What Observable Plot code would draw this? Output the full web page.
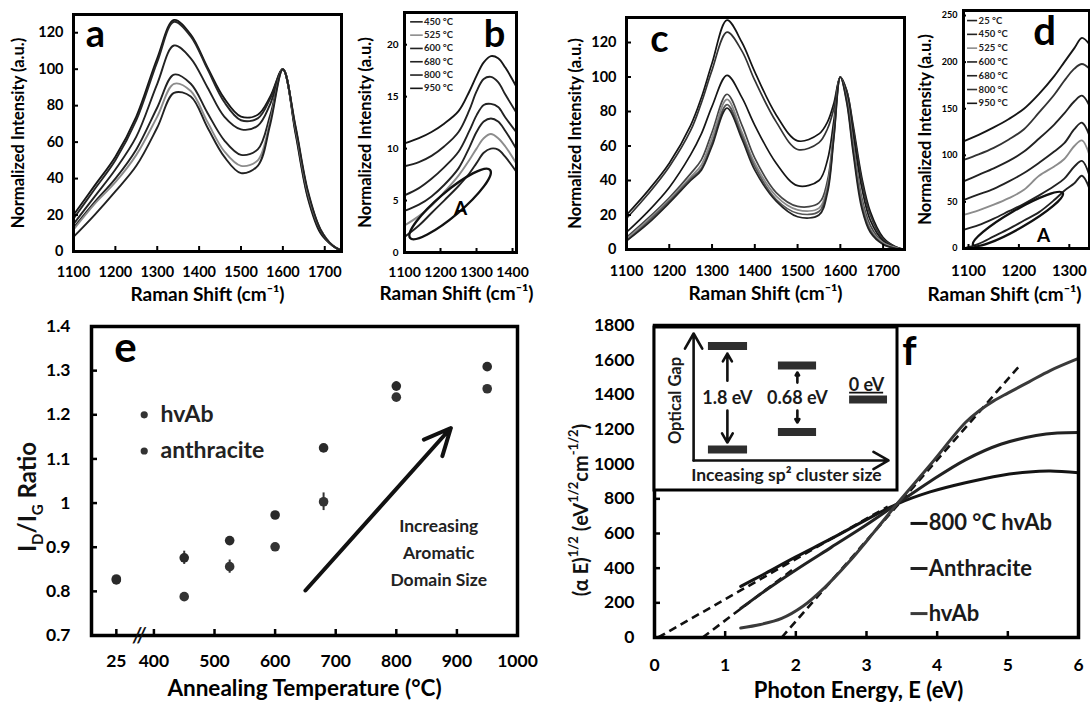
<!DOCTYPE html>
<html><head><meta charset="utf-8">
<script src="https://cdn.jsdelivr.net/npm/d3@7"></script>
<script src="https://cdn.jsdelivr.net/npm/@observablehq/plot@0.6"></script>
<style>
body{margin:0;background:#fff;}
#root{position:relative;width:1090px;height:702px;overflow:hidden;background:#fff;}
#root svg{position:absolute;}
</style></head>
<body><div id="root"></div>
<script>
// ---------- DATA ----------
// Panel a (hvAb, Raman)
const aX = [1100,1150,1200,1250,1300,1340,1380,1420,1460,1500,1540,1570,1600,1630,1660,1690,1720,1740];
const a950 = [20,36,52,74,106,127,119,101,84,74,75,85,100,65,29,10,3,0.5];
const a800 = [18,34,50,72,104,126,118,100,82,72,73,84,100,66,30,11,3,0.5];
const a680 = [15,30,45,63,92,113,106,90,74,67,69,81,100,67,31,11,3,0.5];
const a600 = [13,27,40,56,79,97,92,76,61,53,56,75,100,68,32,12,3,0.5];
const a525 = [12,26,38,53,74,92,88,71,55,47,50,72,100,68,32,12,3,0.5];
const a450 = [8,20,33,47,68,87,85,68,52,43,47,70,100,69,33,12,3,0.5];
// Panel b (zoom of hvAb)
const bX = [1100,1140,1175,1210,1250,1280,1300,1320,1340,1360,1380,1410];
const b950 = [10.5,11.0,11.6,12.4,13.6,15.5,17.0,18.3,18.9,18.7,17.8,16.0];
const b800 = [8.3,8.7,9.3,10.2,11.6,13.7,15.5,16.7,16.9,16.4,15.2,13.5];
const b680 = [5.5,6.2,7.1,8.2,9.7,11.7,13.2,14.2,14.3,14.0,13.0,11.6];
const b600 = [4.0,4.6,5.4,6.5,8.1,10.1,11.6,12.6,12.9,12.6,11.7,10.0];
const b525 = [2.6,3.5,4.5,5.8,7.4,8.9,10.0,11.0,11.4,11.0,10.2,8.6];
const b450 = [1.5,2.6,3.8,5.0,6.4,7.6,8.6,9.6,10.0,9.9,9.2,7.8];
// Panel c (anthracite, Raman)
const cX = [1100,1150,1200,1250,1275,1300,1335,1370,1400,1450,1500,1550,1570,1585,1600,1615,1630,1650,1670,1700,1730,1750];
const c950 = [20,34,50,72,88,108,133,120,103,78,63,67,74,85,100,92,72,42,22,7,1.5,0];
const c800 = [18,32,48,69,85,104,126,115,98,74,58,62,70,82,100,92,70,40,20,6,1.5,0];
const c680 = [10,22,36,55,67,83,101,88,72,50,37,40,52,75,100,90,67,36,17,5,1,0];
const c600 = [7,18,30,44,52,68,90,72,53,33,25,27,40,70,100,88,62,30,14,4,1,0];
const c525 = [6,17,29,42,49,65,87,68,50,31,23,24,37,68,100,87,60,28,12,4,1,0];
const c450 = [5,16,28,41,47,62,84,66,48,29,21,22,35,66,100,86,58,26,11,3,0.5,0];
const c25  = [5,15,27,40,46,60,82,64,46,28,19,20,33,65,100,85,56,24,10,3,0.5,0];
// Panel d (zoom of anthracite)
const dX = [1100,1130,1160,1190,1220,1250,1280,1300,1320,1335,1350];
const d950 = [115,122,130,139,150,166,185,200,215,226,219];
const d800 = [95,101,108,117,128,146,165,180,193,198,193];
const d680 = [72,79,86,94,104,118,133,145,158,164,153];
const d600 = [52,58,64,72,81,92,104,113,128,135,121];
const d525 = [36,41,47,54,63,78,88,96,110,116,100];
const d450 = [20,25,32,40,48,57,67,75,88,94,78];
const d25  = [0,5,13,21,30,39,52,62,70,78,64];
// Panel e (ID/IG ratio)
const eTemps = [25,450,525,600,680,800,950];
const eHvAb = [0.828,0.788,0.856,0.901,1.003,1.240,1.259];
const eHvAbErr = [0.005,0.005,0.015,0.005,0.02,0.006,0.005];
const eAnth = [0.826,0.876,0.915,0.973,1.125,1.265,1.309];
const eAnthErr = [0.005,0.015,0.005,0.005,0.005,0.01,0.005];
const eXTicks = [400,500,600,700,800,900,1000];
// Panel f (Tauc plot)
const fE800 = [1.22,1.5,2.0,2.5,3.0,3.43,3.9,4.4,4.9,5.3,5.6,6.0];
const f800  = [295,355,465,570,680,770,840,893,935,955,960,950];
const fEAnth = [1.22,1.6,2.0,2.5,3.0,3.43,3.9,4.4,4.9,5.4,5.7,6.0];
const fAnth  = [167,280,390,520,650,770,900,1025,1115,1165,1180,1183];
const fEHv = [1.22,1.5,1.8,2.1,2.4,2.75,3.1,3.43,3.9,4.4,4.6,4.8,5.0,5.3,5.6,6.0];
const fHv  = [55,75,110,180,285,435,605,770,995,1240,1310,1365,1410,1475,1540,1610];
const fFitE = {"800 °C hvAb":[0.05,3.3], "Anthracite":[0.68,2.0], "hvAb":[1.8,5.15]};
const fFitV = {"800 °C hvAb":[0,755], "Anthracite":[0,405], "hvAb":[0,1560]};
const fGaps = ["1.8 eV","0.68 eV","0 eV"];

// ---------- HELPERS ----------
const root = document.getElementById("root");
const FONT = "Lato, 'Open Sans', 'DejaVu Sans', sans-serif";
const style = {fontFamily: FONT, fontWeight: "bold", background: "transparent", overflow: "visible", color: "#000"};
function place(svg, left, top){ svg.style.left = left+"px"; svg.style.top = top+"px"; root.appendChild(svg); }
function long(xs, series){ return series.flatMap(s => xs.map((x,i)=>({x, y:s.v[i], name:s.name, color:s.color}))); }
function ellipse(spec){
  return (index, scales) => {
    const x1=scales.x(spec.x1), y1=scales.y(spec.y1), x2=scales.x(spec.x2), y2=scales.y(spec.y2);
    const cx=(x1+x2)/2, cy=(y1+y2)/2, rx=Math.hypot(x2-x1,y2-y1)/2, ang=Math.atan2(y2-y1,x2-x1)*180/Math.PI;
    const e=document.createElementNS("http://www.w3.org/2000/svg","ellipse");
    e.setAttribute("cx",cx); e.setAttribute("cy",cy); e.setAttribute("rx",rx); e.setAttribute("ry",spec.ry);
    e.setAttribute("transform",`rotate(${ang} ${cx} ${cy})`);
    e.setAttribute("fill","none"); e.setAttribute("stroke","#111"); e.setAttribute("stroke-width",2.4);
    return e;
  };
}
const fmt = d => String(d);
const ramanTitle = "Raman Shift (cm⁻¹)";
const niTitle = "Normalized Intensity (a.u.)";
const C = {textAnchor:"middle", lineAnchor:"middle"};

// ---------- PANEL a ----------
{
  const series = [
    {name:"950", v:a950, color:"#161616"},{name:"800", v:a800, color:"#262626"},
    {name:"680", v:a680, color:"#222"},{name:"600", v:a600, color:"#222"},
    {name:"525", v:a525, color:"#8c8c8c"},{name:"450", v:a450, color:"#222"}];
  const svg = Plot.plot({
    width:350, height:305, marginLeft:73, marginRight:9, marginTop:14, marginBottom:54,
    x:{domain:[1100,1740]}, y:{domain:[0,130]}, color:{type:"identity"}, style,
    marks:[
      Plot.line(long(aX,series),{x:"x",y:"y",z:"name",stroke:"color",strokeWidth:1.9,curve:"catmull-rom"}),
      Plot.frame({strokeWidth:3}),
      Plot.axisX({ticks:[1100,1200,1300,1400,1500,1600,1700],tickFormat:fmt,tickSize:-5,tickPadding:20,fontSize:14.5,strokeWidth:2,label:null}),
      Plot.axisY({ticks:[0,20,40,60,80,100,120],tickFormat:fmt,tickSize:-5,tickPadding:15,fontSize:14.5,strokeWidth:2,label:null}),
      Plot.text([ramanTitle],{frameAnchor:"bottom",dy:43,fontSize:19,...C}),
      Plot.text([niTitle],{frameAnchor:"left",dx:-55,rotate:-90,fontSize:16.5,...C}),
      Plot.text(["a"],{frameAnchor:"top-left",dx:22,dy:20,fontSize:38,...C})
    ]});
  place(svg,0,0);
}
// ---------- PANEL b ----------
{
  const series = [
    {name:"450 °C", v:b450, color:"#222"},{name:"525 °C", v:b525, color:"#8c8c8c"},
    {name:"600 °C", v:b600, color:"#222"},{name:"680 °C", v:b680, color:"#222"},
    {name:"800 °C", v:b800, color:"#222"},{name:"950 °C", v:b950, color:"#161616"}];
  const leg = series.map((s,i)=>({...s,i}));
  const svg = Plot.plot({
    width:190, height:305, marginLeft:64, marginRight:14, marginTop:12, marginBottom:53,
    x:{domain:[1100,1411]}, y:{domain:[0,23.1]}, color:{type:"identity"}, style,
    marks:[
      Plot.line(long(bX,series),{x:"x",y:"y",z:"name",stroke:"color",strokeWidth:1.9,curve:"catmull-rom"}),
      Plot.ruleY(leg,{y:d=>22.2-d.i*1.28, x1:1117, x2:1152, stroke:"color", strokeWidth:1.6}),
      Plot.text(leg,{y:d=>22.2-d.i*1.28, x:1154, text:"name", textAnchor:"start", fontSize:9.5, fill:"#222"}),
      ellipse({x1:1117,y1:1.35,x2:1339,y2:7.9,ry:12}),
      Plot.text(["A"],{x:()=>1256,y:()=>4.2,fontSize:19}),
      Plot.frame({strokeWidth:3}),
      Plot.axisX({ticks:[1100,1200,1300,1400],tickFormat:fmt,tickSize:-4,tickPadding:19,fontSize:14,strokeWidth:2,label:null}),
      Plot.axisY({ticks:[0,5,10,15,20],tickFormat:fmt,tickSize:-3,tickPadding:9,fontSize:10,strokeWidth:2,label:null}),
      Plot.text([ramanTitle],{frameAnchor:"bottom",dy:41,dx:-4,fontSize:19,...C}),
      Plot.text([niTitle],{frameAnchor:"left",dx:-39,rotate:-90,fontSize:16.5,...C}),
      Plot.text(["b"],{frameAnchor:"top-right",dx:-22,dy:22,fontSize:38,...C})
    ]});
  place(svg,340,0);
}
// ---------- PANEL c ----------
{
  const series = [
    {name:"950", v:c950, color:"#141414"},{name:"800", v:c800, color:"#333"},
    {name:"680", v:c680, color:"#161616"},{name:"600", v:c600, color:"#444"},
    {name:"525", v:c525, color:"#8a8a8a"},{name:"450", v:c450, color:"#555"},{name:"25", v:c25, color:"#222"}];
  const svg = Plot.plot({
    width:370, height:305, marginLeft:81, marginRight:11, marginTop:17, marginBottom:56,
    x:{domain:[1100,1750]}, y:{domain:[0,134.5]}, color:{type:"identity"}, style,
    marks:[
      Plot.line(long(cX,series),{x:"x",y:"y",z:"name",stroke:"color",strokeWidth:1.7,curve:"catmull-rom"}),
      Plot.frame({strokeWidth:3}),
      Plot.axisX({ticks:[1100,1200,1300,1400,1500,1600,1700],tickFormat:fmt,tickSize:-5,tickPadding:21,fontSize:14.5,strokeWidth:2,label:null}),
      Plot.axisY({ticks:[0,20,40,60,80,100,120],tickFormat:fmt,tickSize:-5,tickPadding:15,fontSize:14.5,strokeWidth:2,label:null}),
      Plot.text([ramanTitle],{frameAnchor:"bottom",dy:44,fontSize:19,...C}),
      Plot.text([niTitle],{frameAnchor:"left",dx:-51,rotate:-90,fontSize:16.5,...C}),
      Plot.text(["c"],{frameAnchor:"top-left",dx:33,dy:22,fontSize:38,...C})
    ]});
  place(svg,545,0);
}
// ---------- PANEL d ----------
{
  const series = [
    {name:"25 °C", v:d25, color:"#222"},{name:"450 °C", v:d450, color:"#222"},
    {name:"525 °C", v:d525, color:"#8c8c8c"},{name:"600 °C", v:d600, color:"#222"},
    {name:"680 °C", v:d680, color:"#222"},{name:"800 °C", v:d800, color:"#333"},{name:"950 °C", v:d950, color:"#161616"}];
  const leg = series.map((s,i)=>({...s,i}));
  const svg = Plot.plot({
    width:190, height:305, marginLeft:63, marginRight:1, marginTop:10, marginBottom:57,
    x:{domain:[1100,1350]}, y:{domain:[0,255.4]}, color:{type:"identity"}, style,
    marks:[
      Plot.line(long(dX,series),{x:"x",y:"y",z:"name",stroke:"color",strokeWidth:1.9,curve:"catmull-rom"}),
      Plot.ruleY(leg,{y:d=>244.6-d.i*14.8, x1:1108, x2:1128, stroke:"color", strokeWidth:1.6}),
      Plot.text(leg,{y:d=>244.6-d.i*14.8, x:1130, text:"name", textAnchor:"start", fontSize:9.5, fill:"#222"}),
      ellipse({x1:1120,y1:3.2,x2:1298,y2:59,ry:9}),
      Plot.text(["A"],{x:()=>1259,y:()=>14,fontSize:19}),
      Plot.frame({strokeWidth:3}),
      Plot.axisX({ticks:[1100,1200,1300],tickFormat:fmt,tickSize:-4,tickPadding:21,dx:5,fontSize:15,strokeWidth:2,label:null}),
      Plot.axisY({ticks:[0,50,100,150,200,250],tickFormat:fmt,tickSize:-3,tickPadding:9,fontSize:9,strokeWidth:2,label:null}),
      Plot.text([ramanTitle],{frameAnchor:"bottom",dy:46,dx:-22,fontSize:19,...C}),
      Plot.text([niTitle],{frameAnchor:"left",dx:-38,rotate:-90,fontSize:16.5,...C}),
      Plot.text(["d"],{frameAnchor:"top-left",dx:81,dy:22,fontSize:40,...C})
    ]});
  place(svg,900,0);
}
// ---------- PANEL e ----------
{
  const breakPos = 338; // axis position where the 25 °C point sits
  const pos = t => t===25 ? breakPos : t;
  const pts = eTemps.flatMap((t,i)=>[
    {x:pos(t), y:eHvAb[i], e:eHvAbErr[i], s:"hvAb"},
    {x:pos(t), y:eAnth[i], e:eAnthErr[i], s:"anthracite"}]);
  const legend = [{s:"hvAb", y:1.2}, {s:"anthracite", y:1.118}];
  const svg = Plot.plot({
    width:545, height:392, marginLeft:91, marginRight:28, marginTop:16, marginBottom:67,
    x:{domain:[297,1000]}, y:{domain:[0.7,1.4]}, style,
    marks:[
      Plot.ruleX(pts,{x:"x",y1:d=>d.y-d.e,y2:d=>d.y+d.e,stroke:"#333",strokeWidth:2}),
      Plot.dot(pts,{x:"x",y:"y",r:4.8,fill:d=>d.s==="hvAb"?"#333":"#2a2a2a",stroke:"none"}),
      Plot.dot(legend,{x:()=>384,y:"y",r:3.6,fill:"#333"}),
      Plot.text(legend,{x:()=>411,y:"y",text:"s",textAnchor:"start",fontSize:23,fill:"#222"}),
      Plot.arrow([{x1:650,y1:0.802,x2:890,y2:1.17}],{x1:"x1",y1:"y1",x2:"x2",y2:"y2",strokeWidth:4,headLength:11,headAngle:50,stroke:"#111"}),
      Plot.text(["Increasing\nAromatic\nDomain Size"],{x:()=>870,y:()=>0.893,fontSize:17.5,lineHeight:1.55,fill:"#222"}),
      Plot.frame({strokeWidth:3.5}),
      Plot.axisX({ticks:[breakPos,...eXTicks],tickFormat:d=>d===breakPos?"25":String(d),tickSize:-6,tickPadding:25,fontSize:17.5,strokeWidth:2.5,label:null}),
      Plot.axisY({ticks:[0.7,0.8,0.9,1,1.1,1.2,1.3,1.4],tickFormat:d=>d===1?"1":d.toFixed(1),tickSize:-6,tickPadding:27,fontSize:17.5,strokeWidth:2.5,label:null}),
      Plot.text(["//"],{x:()=>376,y:()=>0.7,fontSize:20,fontStyle:"italic",fill:"#111"}),
      Plot.text(["Annealing Temperature (°C)"],{frameAnchor:"bottom",dy:53,fontSize:22.5,...C}),
      Plot.text(["e"],{frameAnchor:"top-left",dx:34,dy:22,fontSize:42,...C})
    ]});
  const t = d3.select(svg).append("text")
    .attr("transform","translate(30,187) rotate(-90)")
    .attr("text-anchor","middle").attr("dominant-baseline","middle")
    .style("font-family",FONT).style("font-weight","bold").style("font-size","24px").attr("fill","#111");
  t.append("tspan").text("I");
  t.append("tspan").attr("baseline-shift","sub").style("font-size","15px").text("D");
  t.append("tspan").text("/I");
  t.append("tspan").attr("baseline-shift","sub").style("font-size","15px").text("G");
  t.append("tspan").text(" Ratio");
  place(svg,0,310);
}
// ---------- PANEL f ----------
{
  const curves = [
    ...fE800.map((e,i)=>({E:e,V:f800[i],s:"800 °C hvAb"})),
    ...fEAnth.map((e,i)=>({E:e,V:fAnth[i],s:"Anthracite"})),
    ...fEHv.map((e,i)=>({E:e,V:fHv[i],s:"hvAb"}))];
  const fits = Object.keys(fFitE).map(k=>({s:k,x1:fFitE[k][0],x2:fFitE[k][1],y1:fFitV[k][0],y2:fFitV[k][1]}));
  const legend = [{s:"800 °C hvAb",y:658},{s:"Anthracite",y:398},{s:"hvAb",y:138}];
  const col = {"800 °C hvAb":"#141414","Anthracite":"#222","hvAb":"#3a3a3a"};
  const svg = Plot.plot({
    width:545, height:392, marginLeft:109, marginRight:12, marginTop:15, marginBottom:65,
    x:{domain:[0,6]}, y:{domain:[0,1800]}, style,
    marks:[
      Plot.link(fits,{x1:"x1",y1:"y1",x2:"x2",y2:"y2",stroke:"#111",strokeWidth:2.6,strokeDasharray:"8,5"}),
      Plot.line(curves,{x:"E",y:"V",z:"s",stroke:d=>col[d.s],strokeWidth:3,curve:"catmull-rom"}),
      Plot.ruleY(legend,{y:"y",x1:3.63,x2:3.87,stroke:d=>col[d.s],strokeWidth:3}),
      Plot.text(legend,{y:"y",x:()=>3.88,text:"s",textAnchor:"start",fontSize:22,fill:"#1a1a1a"}),
      Plot.frame({strokeWidth:3.5}),
      Plot.axisX({ticks:[0,1,2,3,4,5,6],tickFormat:fmt,tickSize:-6,tickPadding:27,fontSize:17.5,strokeWidth:2.5,label:null}),
      Plot.axisY({ticks:d3.range(0,1801,200),tickFormat:fmt,tickSize:-6,tickPadding:26,fontSize:17.5,strokeWidth:2.5,label:null}),
      Plot.text(["Photon Energy, E (eV)"],{frameAnchor:"bottom",dy:53,dx:-8,fontSize:22,...C}),
      Plot.text(["f"],{frameAnchor:"top-right",dx:-169,dy:27,fontSize:40,...C})
    ]});
  const t = d3.select(svg).append("text")
    .attr("transform","translate(38,200) rotate(-90)")
    .attr("text-anchor","middle").attr("dominant-baseline","middle")
    .style("font-family",FONT).style("font-weight","bold").style("font-size","20px").attr("fill","#111");
  const sup = txt => t.append("tspan").attr("baseline-shift","super").style("font-size","13px").text(txt);
  t.append("tspan").text("(α E)"); sup("1/2");
  t.append("tspan").text(" (eV"); sup("1/2");
  t.append("tspan").text("cm"); sup("-1/2");
  t.append("tspan").text(")");
  place(svg,545,310);

  // inset schematic (optical gap vs sp2 cluster size)
  const levels = [
    {label:fGaps[0], x1:2.24, x2:3.85, top:8.83, bottom:2.48, ax:3.02, up:[6.71,8.37], down:[4.88,2.91]},
    {label:fGaps[1], x1:5.12, x2:6.69, top:7.64, bottom:3.56, ax:5.90, up:[6.59,7.21], down:[4.88,4.14]}];
  const zero = {label:fGaps[2], x1:8.05, x2:9.61, y:5.55};
  const bars = levels.flatMap(l=>[{x1:l.x1,x2:l.x2,y:l.top},{x1:l.x1,x2:l.x2,y:l.bottom}]).concat([{x1:zero.x1,x2:zero.x2,y:zero.y}]);
  const arrows = levels.flatMap(l=>[{x:l.ax,y1:l.up[0],y2:l.up[1]},{x:l.ax,y1:l.down[0],y2:l.down[1]}]);
  const inset = Plot.plot({
    width:246, height:166, margin:1.5, x:{domain:[0,10],axis:null}, y:{domain:[0,10],axis:null}, style,
    marks:[
      Plot.frame({fill:"white",stroke:"#000",strokeWidth:3}),
      Plot.arrow([{x1:1.63,y1:1.81,x2:1.63,y2:9.6},{x1:1.63,y1:1.81,x2:9.65,y2:1.81}],{x1:"x1",y1:"y1",x2:"x2",y2:"y2",strokeWidth:2.6,headLength:10,stroke:"#111"}),
      Plot.ruleY(bars,{y:"y",x1:"x1",x2:"x2",stroke:"#2e2e2e",strokeWidth:8}),
      Plot.arrow(arrows,{x1:"x",x2:"x",y1:"y1",y2:"y2",strokeWidth:2.6,headLength:9,stroke:"#111"}),
      Plot.text(levels,{x:"ax",y:()=>5.61,text:"label",fontSize:18,fill:"#1a1a1a"}),
      Plot.text([zero],{x:()=>8.74,y:()=>6.4,text:"label",fontSize:18,fill:"#1a1a1a"}),
      Plot.ruleY([zero],{y:()=>5.98,x1:()=>8.05,x2:()=>9.45,stroke:"#111",strokeWidth:1.8}),
      Plot.text(["Optical Gap"],{x:()=>0.88,y:()=>5.49,rotate:-90,fontSize:16.5,fill:"#1a1a1a"}),
      Plot.text(["Inceasing sp² cluster size"],{x:()=>5.45,y:()=>0.89,fontSize:17.5,fill:"#1a1a1a"})
    ]});
  place(inset,652,325);
}
</script></body></html>
